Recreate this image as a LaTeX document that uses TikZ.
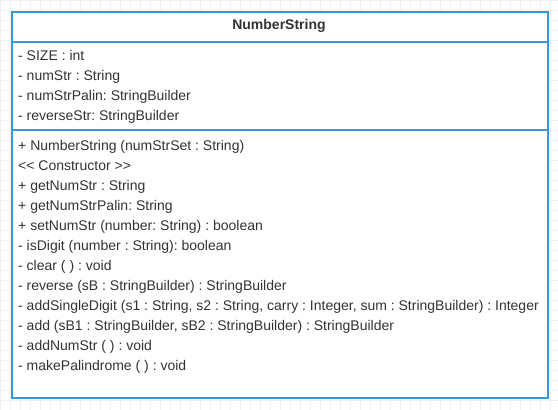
\documentclass[tikz,border=0pt]{standalone}
\usepackage{fontspec}
\setmainfont{Liberation Sans}
\frenchspacing
\definecolor{umlblue}{HTML}{3498DB}
\definecolor{txt}{HTML}{333333}
\definecolor{gridc}{HTML}{F0F0F0}
\begin{document}
\begin{tikzpicture}[x=1pt,y=-1pt,
  member/.style={anchor=base west,inner sep=0pt,text=txt,font=\fontsize{14}{16}\selectfont},
  title/.style={anchor=base,inner sep=0pt,text=txt,font=\fontsize{14}{16}\selectfont\bfseries},
  border/.style={draw=umlblue,line width=2pt},
  sep/.style={draw=umlblue,line width=2pt}]
\useasboundingbox (0,0) rectangle (558,410);
\fill[white] (0,0) rectangle (558,410);
\foreach \x in {0,10,...,550} \draw[gridc,line width=0.6pt] (\x,0) -- (\x,410);
\foreach \y in {0,10,...,410} \draw[gridc,line width=0.6pt] (0,\y) -- (558,\y);
\node[border,fill=white,minimum width=536pt,minimum height=386pt,inner sep=0pt,anchor=north west] (cls) at (11,11) {};
\coordinate (s1l) at (11,41.5); \coordinate (s1r) at (547,41.5);
\coordinate (s2l) at (11,129.5); \coordinate (s2r) at (547,129.5);
\draw[sep] (s1l) -- (s1r);
\draw[sep] (s2l) -- (s2r);
\node[title] (name) at (279,29) {NumberString};
\node[member] (a1) at (18,60) {- SIZE : int};
\node[member] (a2) at (18,80) {- numStr : String};
\node[member] (a3) at (18,100) {- numStrPalin: StringBuilder};
\node[member] (a4) at (18,120) {- reverseStr: StringBuilder};
\node[member] (m1) at (18,150) {+ NumberString (numStrSet : String)};
\node[member] (m2) at (18,170) {<{}< Constructor >{}>};
\node[member] (m3) at (18,190) {+ getNumStr : String};
\node[member] (m4) at (18,210) {+ getNumStrPalin: String};
\node[member] (m5) at (18,230) {+ setNumStr (number: String) : boolean};
\node[member] (m6) at (18,250) {- isDigit (number : String): boolean};
\node[member] (m7) at (18,270) {- clear ( ) : void};
\node[member] (m8) at (18,290) {- reverse (sB : StringBuilder) : StringBuilder};
\node[member] (m9) at (18,310) {- addSingleDigit (s1 : String, s2 : String, carry : Integer, sum : StringBuilder) : Integer};
\node[member] (m10) at (18,330) {- add (sB1 : StringBuilder, sB2 : StringBuilder) : StringBuilder};
\node[member] (m11) at (18,350) {- addNumStr ( ) : void};
\node[member] (m12) at (18,370) {- makePalindrome ( ) : void};
\end{tikzpicture}
\end{document}
